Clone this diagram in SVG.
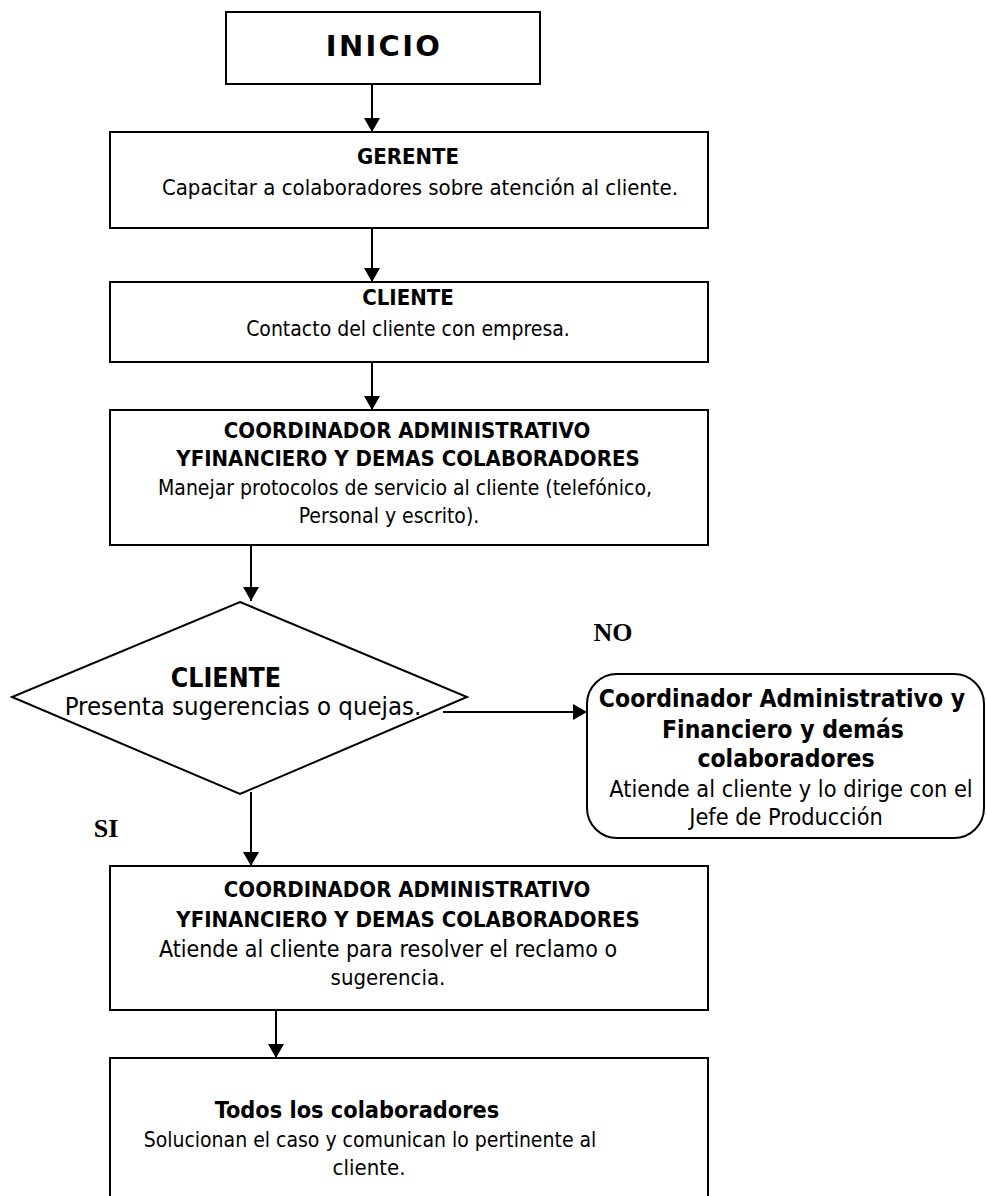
<svg xmlns="http://www.w3.org/2000/svg" width="986" height="1196" viewBox="0 0 986 1196">
  <style>
    .box { fill: #ffffff; stroke: #000000; stroke-width: 2; }
    .edge { fill: none; stroke: #000000; stroke-width: 2; }
    text { font-family: "DejaVu Sans Condensed", "DejaVu Sans", sans-serif; font-stretch: condensed; fill: #000000; text-anchor: middle; }
    .title { font-weight: bold; font-size: 22px; }
    .body { font-size: 22px; }
    .dtitle { font-weight: bold; font-size: 26.5px; }
    .dbody { font-size: 25.5px; }
    .rtitle { font-weight: bold; font-size: 24.5px; }
    .rbody { font-size: 23.3px; }
    .branch { font-family: "Liberation Serif", "Times New Roman", serif; font-stretch: normal; font-weight: bold; font-size: 26px; }
  </style>
  <defs>
    <marker id="arrow" viewBox="0 0 14 16" refX="14" refY="8" markerWidth="14" markerHeight="16" markerUnits="userSpaceOnUse" orient="auto">
      <path d="M0,0 L14,8 L0,16 Z" fill="#000000"/>
    </marker>
  </defs>

  <rect width="986" height="1196" fill="#ffffff"/>

  <!-- connectors -->
  <g id="connectors">
    <line class="edge" x1="372" y1="84" x2="372" y2="132" marker-end="url(#arrow)"/>
    <line class="edge" x1="372" y1="228" x2="372" y2="282" marker-end="url(#arrow)"/>
    <line class="edge" x1="372" y1="362" x2="372" y2="410" marker-end="url(#arrow)"/>
    <line class="edge" x1="251" y1="545" x2="251" y2="601" marker-end="url(#arrow)"/>
    <line class="edge" x1="443" y1="712" x2="587" y2="712" marker-end="url(#arrow)"/>
    <line class="edge" x1="251" y1="792" x2="251" y2="866" marker-end="url(#arrow)"/>
    <line class="edge" x1="276" y1="1010" x2="276" y2="1058" marker-end="url(#arrow)"/>
  </g>

  <!-- start -->
  <g id="inicio">
    <rect class="box" x="226" y="12" width="314" height="72"/>
    <text x="384" y="56" style="font-family:'DejaVu Sans',sans-serif;font-stretch:normal;font-weight:bold;font-size:29px;letter-spacing:2.3px">INICIO</text>
  </g>

  <g id="gerente">
    <rect class="box" x="110" y="132" width="598" height="96"/>
    <text class="title" x="408" y="164">GERENTE</text>
    <text class="body" x="420" y="195">Capacitar a colaboradores sobre atención al cliente.</text>
  </g>

  <g id="cliente-contacto">
    <rect class="box" x="110" y="282" width="598" height="80"/>
    <text class="title" x="408" y="305">CLIENTE</text>
    <text class="body" x="408" y="336" style="font-size:21px">Contacto del cliente con empresa.</text>
  </g>

  <g id="coordinador-protocolos">
    <rect class="box" x="110" y="410" width="598" height="135"/>
    <text class="title" x="407" y="438">COORDINADOR ADMINISTRATIVO</text>
    <text class="title" x="408" y="466">YFINANCIERO Y DEMAS COLABORADORES</text>
    <text class="body" x="405" y="495" style="font-size:21px">Manejar protocolos de servicio al cliente (telefónico,</text>
    <text class="body" x="389" y="523" style="font-size:21px">Personal y escrito).</text>
  </g>

  <!-- decision -->
  <g id="decision-cliente">
    <polygon class="box" points="240,602 467,697 240,794 12,697"/>
    <text class="dtitle" x="226" y="687">CLIENTE</text>
    <text class="dbody" x="243" y="715">Presenta sugerencias o quejas.</text>
  </g>

  <g id="label-no">
    <text class="branch" x="613" y="641">NO</text>
  </g>

  <g id="label-si">
    <text class="branch" x="106" y="837">SI</text>
  </g>

  <g id="atencion-no">
    <rect class="box" x="587" y="674" width="397" height="164" rx="30" ry="30"/>
    <text class="rtitle" x="782" y="707">Coordinador Administrativo y</text>
    <text class="rtitle" x="783" y="738">Financiero y demás</text>
    <text class="rtitle" x="786" y="767">colaboradores</text>
    <text class="rbody" x="791" y="797">Atiende al cliente y lo dirige con el</text>
    <text class="rbody" x="786" y="825">Jefe de Producción</text>
  </g>

  <g id="coordinador-reclamo">
    <rect class="box" x="110" y="866" width="598" height="144"/>
    <text class="title" x="407" y="897">COORDINADOR ADMINISTRATIVO</text>
    <text class="title" x="408" y="927">YFINANCIERO Y DEMAS COLABORADORES</text>
    <text class="body" x="388" y="957" style="font-size:23px">Atiende al cliente para resolver el reclamo o</text>
    <text class="body" x="388" y="985">sugerencia.</text>
  </g>

  <g id="todos">
    <rect class="box" x="110" y="1058" width="598" height="140"/>
    <text class="title" x="357" y="1118" style="font-size:23.3px">Todos los colaboradores</text>
    <text class="body" x="370" y="1147" style="font-size:21px">Solucionan el caso y comunican lo pertinente al</text>
    <text class="body" x="369" y="1175">cliente.</text>
  </g>
</svg>
